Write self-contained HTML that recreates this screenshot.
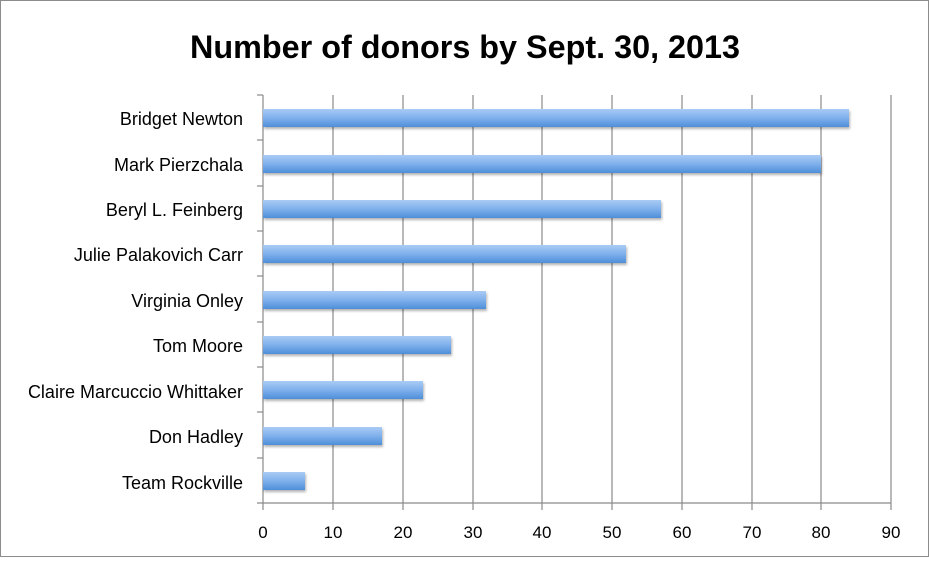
<!DOCTYPE html>
<html><head><style>body{margin:0;background:#fff}</style></head><body>
<svg width="929" height="558" xmlns="http://www.w3.org/2000/svg" font-family="Liberation Sans, sans-serif">
<defs><linearGradient id="g" x1="0" y1="0" x2="0" y2="1"><stop offset="0" stop-color="#a9cbf5"/><stop offset="0.5" stop-color="#7fb0ec"/><stop offset="1" stop-color="#4e8ed8"/></linearGradient>
<filter id="s"><feDropShadow dx="1" dy="2" stdDeviation="1.2" flood-color="#000" flood-opacity="0.3"/></filter></defs>
<rect x="0.5" y="0.5" width="928" height="556" fill="#fff" stroke="#8c8c8c"/>
<text x="465" y="58" text-anchor="middle" font-size="32" font-weight="bold" textLength="550" lengthAdjust="spacingAndGlyphs">Number of donors by Sept. 30, 2013</text>
<g stroke="#8a8a8a" stroke-width="1.2">
<line x1="333" y1="95" x2="333" y2="510"/><line x1="403" y1="95" x2="403" y2="510"/><line x1="473" y1="95" x2="473" y2="510"/><line x1="542" y1="95" x2="542" y2="510"/><line x1="612" y1="95" x2="612" y2="510"/><line x1="682" y1="95" x2="682" y2="510"/><line x1="752" y1="95" x2="752" y2="510"/><line x1="821" y1="95" x2="821" y2="510"/><line x1="891" y1="95" x2="891" y2="510"/>
<line x1="263" y1="95" x2="263" y2="510"/><line x1="257" y1="503" x2="891" y2="503"/>
<line x1="257" y1="95" x2="263" y2="95"/><line x1="257" y1="140" x2="263" y2="140"/><line x1="257" y1="186" x2="263" y2="186"/><line x1="257" y1="231" x2="263" y2="231"/><line x1="257" y1="276" x2="263" y2="276"/><line x1="257" y1="322" x2="263" y2="322"/><line x1="257" y1="367" x2="263" y2="367"/><line x1="257" y1="412" x2="263" y2="412"/><line x1="257" y1="458" x2="263" y2="458"/>
</g>
<g fill="url(#g)" filter="url(#s)">
<rect x="263" y="109" width="586" height="18"/>
<rect x="263" y="155" width="558" height="18"/>
<rect x="263" y="200" width="398" height="18"/>
<rect x="263" y="245" width="363" height="18"/>
<rect x="263" y="291" width="223" height="18"/>
<rect x="263" y="336" width="188" height="18"/>
<rect x="263" y="381" width="160" height="18"/>
<rect x="263" y="427" width="119" height="18"/>
<rect x="263" y="472" width="42" height="18"/>
</g>
<g font-size="18" text-anchor="end" fill="#000">
<text x="243" y="125">Bridget Newton</text>
<text x="243" y="171">Mark Pierzchala</text>
<text x="243" y="216">Beryl L. Feinberg</text>
<text x="243" y="261">Julie Palakovich Carr</text>
<text x="243" y="307">Virginia Onley</text>
<text x="243" y="352">Tom Moore</text>
<text x="243" y="398">Claire Marcuccio Whittaker</text>
<text x="243" y="443">Don Hadley</text>
<text x="243" y="489">Team Rockville</text>
</g>
<g font-size="17" text-anchor="middle">
<text x="263" y="538">0</text><text x="333" y="538">10</text><text x="403" y="538">20</text><text x="473" y="538">30</text><text x="542" y="538">40</text><text x="612" y="538">50</text><text x="682" y="538">60</text><text x="752" y="538">70</text><text x="821" y="538">80</text><text x="891" y="538">90</text>
</g>
</svg>
</body></html>
